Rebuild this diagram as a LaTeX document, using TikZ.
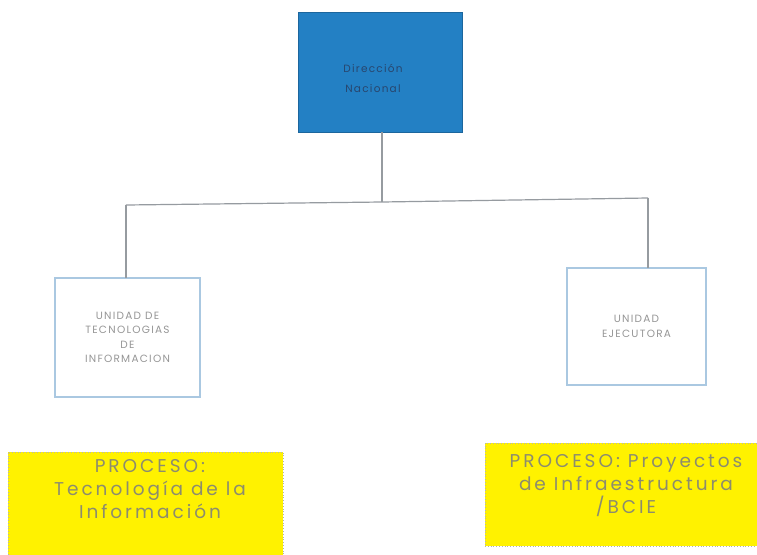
\documentclass[tikz,border=0pt]{standalone}
\usepackage{fontspec}
\setmainfont{Poppins}
\newfontfamily\wide[LetterSpace=12]{Poppins}
\newfontfamily\wider[LetterSpace=16]{Poppins}
\begin{document}
\begin{tikzpicture}[x=1pt,y=-1pt,
  every node/.style={inner sep=0pt, outer sep=0pt, align=center},
  topbox/.style={fill=topblue, draw=topblue!80!black, line width=0.6pt, minimum width=164pt, minimum height=120pt, text=topink, font=\wide\fontsize{10.5}{20}\selectfont},
  unitbox/.style={fill=white, draw=unitedge, line width=1.2pt, text=unitink, font=\wide\fontsize{10.5}{14.5}\selectfont},
  procbox/.style={fill=procyellow, draw=gray!60, dotted, line width=0.8pt},
  proctext/.style={text=procink, font=\wider\fontsize{18.5}{23}\selectfont},
  link/.style={draw=linkgray, line width=1.2pt}]
\definecolor{topblue}{RGB}{35,128,196}
\definecolor{topink}{RGB}{40,70,110}
\definecolor{unitedge}{RGB}{170,200,225}
\definecolor{unitink}{RGB}{150,150,150}
\definecolor{procyellow}{RGB}{255,242,0}
\definecolor{procink}{RGB}{140,140,110}
\definecolor{linkgray}{RGB}{150,155,160}
\useasboundingbox (0,0) rectangle (757,554);
\fill[white] (0,0) rectangle (757,554);

\node[topbox] (dn) at (380,72) {};
\node[text=topink, font=\wide\fontsize{10.5}{20}\selectfont] (dnt) at (373,78) {Dirección\\Nacional};
\node[unitbox, minimum width=145pt, minimum height=119pt] (uti) at (127.5,337.5) {UNIDAD DE\\TECNOLOGIAS\\DE\\INFORMACION};
\node[unitbox, minimum width=139pt, minimum height=117pt] (ue) at (636.5,326.5) {UNIDAD\\EJECUTORA};
\node[procbox, minimum width=275pt, minimum height=110pt] (p1) at (145.5,507) {};
\node[proctext] (p1t) at (150,489) {PROCESO:\\Tecnología de la\\Información};
\node[procbox, minimum width=272pt, minimum height=103pt] (p2) at (621,494.5) {};
\node[proctext] (p2t) at (626,486) {PROCESO: Proyectos\\de Infraestructura\\/BCIE};

\coordinate (j) at (382,202);
\coordinate (jl) at (126,205);
\coordinate (jr) at (648,198);
\draw[link] (dn.south -| j) -- (j);
\draw[link] (jl) -- (j) -- (jr);
\draw[link] (jl) -- (jl |- uti.north);
\draw[link] (jr) -- (jr |- ue.north);
\end{tikzpicture}
\end{document}
